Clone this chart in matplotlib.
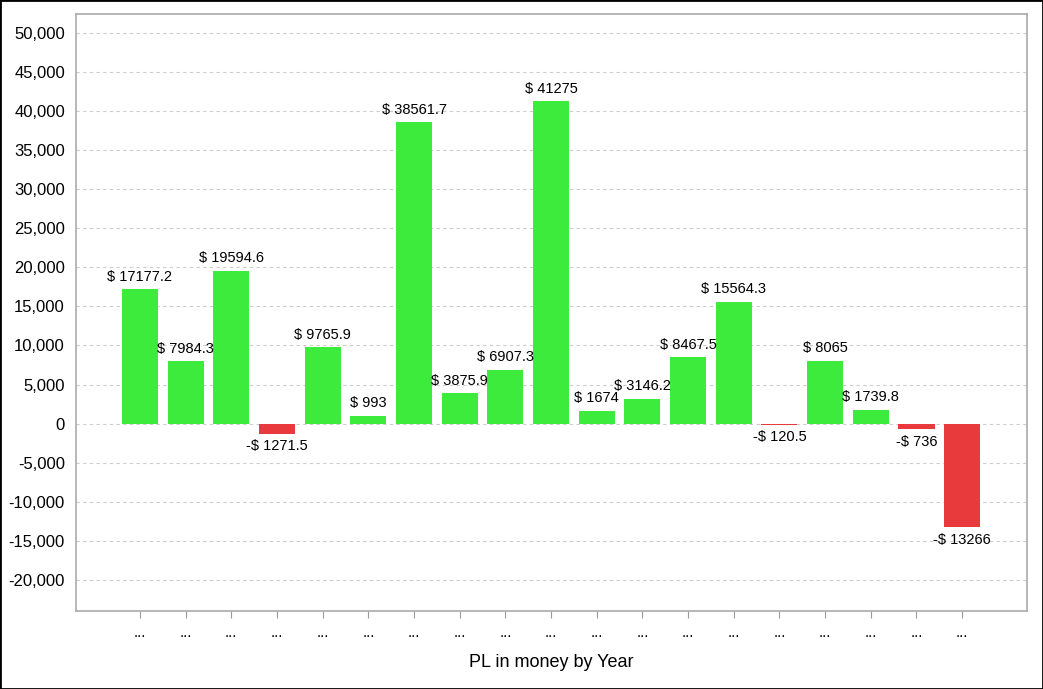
import numpy as np
import matplotlib.pyplot as plt
from matplotlib.patches import Rectangle

plt.rcParams['font.family'] = ['Liberation Sans', 'DejaVu Sans']

years = ['...'] * 19
pl = [17177.2, 7984.3, 19594.6, -1271.5, 9765.9, 993, 38561.7, 3875.9, 6907.3,
      41275, 1674, 3146.2, 8467.5, 15564.3, -120.5, 8065, 1739.8, -736, -13266]

green = '#3deb3d'
red = '#e8393d'

fig = plt.figure(figsize=(10.43, 6.89), dpi=100)
ax = fig.add_axes([76/1043, 1 - 611/689, (1027-76)/1043, (611-14)/689])

x = np.arange(len(pl))
colors = [green if v >= 0 else red for v in pl]
ax.bar(x, pl, width=0.79, color=colors, zorder=3)

def fmt(v):
    s = ('%.1f' % abs(v)).rstrip('0').rstrip('.')
    return ('-$ ' if v < 0 else '$ ') + s

for xi, v in zip(x, pl):
    if v >= 0:
        ax.annotate(fmt(v), (xi, v), xytext=(0, 4), textcoords='offset points',
                    ha='center', va='bottom', fontsize=10.5, zorder=4)
    else:
        ax.annotate(fmt(v), (xi, v), xytext=(0, -4), textcoords='offset points',
                    ha='center', va='top', fontsize=10.5, zorder=4)

ax.set_xlim(-1.4, 19.42)
ax.set_ylim(-24000, 52450)
ax.set_yticks(np.arange(-20000, 50001, 5000))
ax.yaxis.set_major_formatter(plt.FuncFormatter(lambda v, p: '{:,.0f}'.format(v)))
ax.set_xticks(x)
ax.set_xticklabels(years, fontsize=11)
ax.tick_params(axis='y', length=0, labelsize=12, pad=8)
ax.tick_params(axis='x', length=5, color='#999999', pad=6)
ax.grid(axis='y', linestyle=(0, (3, 3)), color='#cccccc', linewidth=0.8, zorder=0)
for s in ax.spines.values():
    s.set_color('#aaaaaa')
    s.set_linewidth(1.2)
ax.set_xlabel('PL in money by Year', fontsize=13, labelpad=10)

fig.patches.append(Rectangle((0, 0), 1, 1, transform=fig.transFigure,
                             fill=False, edgecolor='black', linewidth=2))

fig.savefig('out.png', dpi=100)
